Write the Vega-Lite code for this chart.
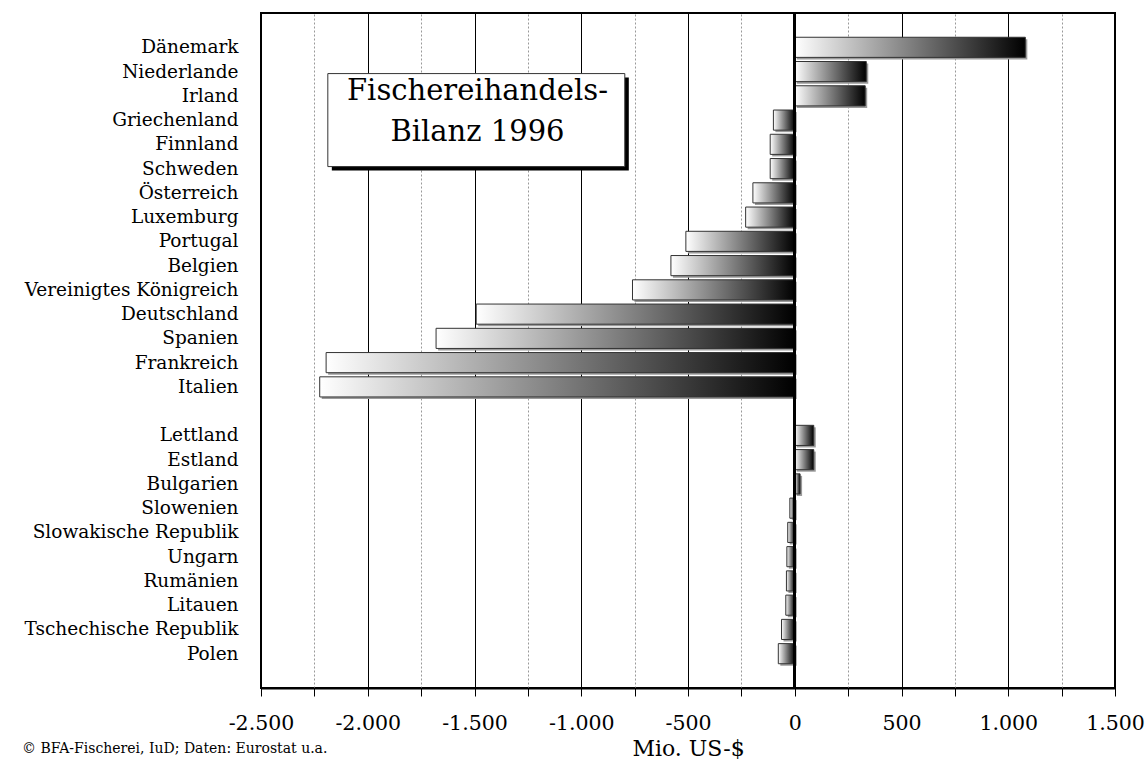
{
  "$schema": "https://vega.github.io/schema/vega-lite/v6.json",
  "width": 854,
  "height": 675,
  "autosize": {"type": "none"},
  "padding": {"left": 261, "top": 13, "right": 31, "bottom": 76},
  "background": "white",
  "config": {
    "view": {"stroke": "black", "strokeWidth": 2},
    "font": "DejaVu Serif"
  },
  "title": {
    "text": "© BFA-Fischerei, IuD; Daten: Eurostat u.a.",
    "orient": "bottom",
    "anchor": "start",
    "frame": "group",
    "fontSize": 14,
    "fontWeight": "normal",
    "font": "DejaVu Serif",
    "color": "black",
    "dx": -239,
    "offset": -18
  },
  "datasets": {
    "bars": [
      {"country": "Dänemark", "value": 1080},
      {"country": "Niederlande", "value": 335},
      {"country": "Irland", "value": 330},
      {"country": "Griechenland", "value": -100},
      {"country": "Finnland", "value": -115},
      {"country": "Schweden", "value": -115},
      {"country": "Österreich", "value": -196},
      {"country": "Luxemburg", "value": -230},
      {"country": "Portugal", "value": -510},
      {"country": "Belgien", "value": -580},
      {"country": "Vereinigtes Königreich", "value": -760},
      {"country": "Deutschland", "value": -1492},
      {"country": "Spanien", "value": -1680},
      {"country": "Frankreich", "value": -2195},
      {"country": "Italien", "value": -2225},
      {"country": "Lettland", "value": 89},
      {"country": "Estland", "value": 89},
      {"country": "Bulgarien", "value": 25},
      {"country": "Slowenien", "value": -23},
      {"country": "Slowakische Republik", "value": -33},
      {"country": "Ungarn", "value": -37},
      {"country": "Rumänien", "value": -39},
      {"country": "Litauen", "value": -42},
      {"country": "Tschechische Republik", "value": -62},
      {"country": "Polen", "value": -77}
    ],
    "box": [
      {"x1": -2187, "x2": -796, "y1": "Niederlande", "y2": "Schweden", "tx": -1486, "ty": "Irland", "label": "Fischereihandels-\nBilanz 1996"}
    ]
  },
  "layer": [
    {
      "data": {"name": "bars"},
      "mark": {"type": "bar", "fill": "#9a9a9a", "xOffset": 2, "x2Offset": 2, "yOffset": 2, "y2Offset": 2},
      "encoding": {
        "y": {
          "field": "country",
          "type": "nominal",
          "sort": null,
          "scale": {
            "domain": ["Dänemark", "Niederlande", "Irland", "Griechenland", "Finnland", "Schweden", "Österreich", "Luxemburg", "Portugal", "Belgien", "Vereinigtes Königreich", "Deutschland", "Spanien", "Frankreich", "Italien", " ", "Lettland", "Estland", "Bulgarien", "Slowenien", "Slowakische Republik", "Ungarn", "Rumänien", "Litauen", "Tschechische Republik", "Polen"],
            "paddingInner": 0.17,
            "paddingOuter": 1.125
          },
          "axis": {
            "title": null,
            "ticks": false,
            "domain": false,
            "grid": false,
            "labelFontSize": 18.5,
            "labelPadding": 23,
            "labelLimit": 300,
            "labelColor": "black",
            "labelFont": "DejaVu Serif"
          }
        },
        "x": {
          "field": "value",
          "type": "quantitative",
          "scale": {"domain": [-2500, 1500], "nice": false, "zero": false},
          "axis": {
            "title": "Mio. US-$",
            "titleFont": "DejaVu Serif",
            "titleFontSize": 22,
            "titleFontWeight": "normal",
            "titleColor": "black",
            "titlePadding": 5,
            "values": [-2500, -2250, -2000, -1750, -1500, -1250, -1000, -750, -500, -250, 0, 250, 500, 750, 1000, 1250, 1500],
            "labelExpr": "datum.value % 500 === 0 ? replace(replace(format(datum.value, ',d'), ',', '.'), '\u2212', '-') : ''",
            "labelFont": "DejaVu Serif",
            "labelFontSize": 20.5,
            "labelColor": "black",
            "labelPadding": 17,
            "labelFlush": false,
            "labelOverlap": false,
            "tickColor": "black",
            "tickSize": 8,
            "tickWidth": 1,
            "domainColor": "black",
            "domainWidth": 2,
            "grid": true,
            "gridColor": {"condition": {"test": "datum.value % 500 === 0", "value": "black"}, "value": "#999999"},
            "gridDash": {"condition": {"test": "datum.value % 500 === 0", "value": []}, "value": [2, 2]},
            "gridWidth": 1
          }
        }
      }
    },
    {
      "data": {"name": "bars"},
      "mark": {
        "type": "bar",
        "stroke": "#333333",
        "strokeWidth": 1,
        "fill": {
          "gradient": "linear",
          "x1": 0, "y1": 0, "x2": 1, "y2": 0,
          "stops": [
            {"offset": 0, "color": "#ffffff"},
            {"offset": 1, "color": "#000000"}
          ]
        }
      },
      "encoding": {
        "y": {"field": "country", "type": "nominal", "sort": null},
        "x": {"field": "value", "type": "quantitative", "title": "Mio. US-$"}
      }
    },
    {
      "data": {"name": "bars"},
      "mark": {"type": "rule", "color": "black", "strokeWidth": 2},
      "encoding": {
        "x": {"datum": 0, "type": "quantitative", "title": "Mio. US-$"}
      }
    },
    {
      "data": {"name": "box"},
      "mark": {"type": "rect", "fill": "black", "xOffset": 4, "x2Offset": 4, "yOffset": 4, "y2Offset": 4},
      "encoding": {
        "x": {"field": "x1", "type": "quantitative", "title": "Mio. US-$"},
        "x2": {"field": "x2"},
        "y": {"field": "y1", "type": "nominal", "bandPosition": 0.6},
        "y2": {"field": "y2", "bandPosition": 0.4}
      }
    },
    {
      "data": {"name": "box"},
      "mark": {"type": "rect", "fill": "white", "stroke": "#333333", "strokeWidth": 1},
      "encoding": {
        "x": {"field": "x1", "type": "quantitative", "title": "Mio. US-$"},
        "x2": {"field": "x2"},
        "y": {"field": "y1", "type": "nominal", "bandPosition": 0.6},
        "y2": {"field": "y2", "bandPosition": 0.4}
      }
    },
    {
      "data": {"name": "box"},
      "mark": {"type": "text", "font": "DejaVu Serif", "fontSize": 29, "color": "black", "align": "center", "baseline": "alphabetic", "lineBreak": "\n", "lineHeight": 41, "dy": 4},
      "encoding": {
        "x": {"field": "tx", "type": "quantitative", "title": "Mio. US-$"},
        "y": {"field": "ty", "type": "nominal"},
        "text": {"field": "label"}
      }
    }
  ]
}
